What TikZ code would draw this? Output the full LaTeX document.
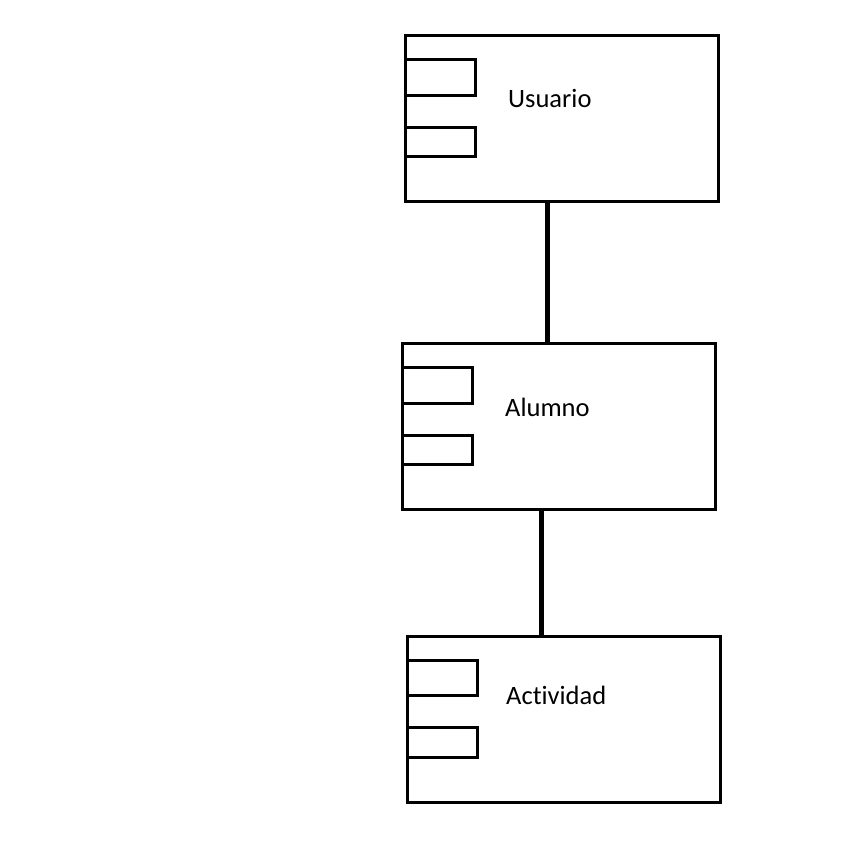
\documentclass[tikz,border=0pt]{standalone}
\usepackage{fontspec}
\setmainfont{Carlito}[Ligatures={NoCommon}]
\begin{document}
\begin{tikzpicture}[x=1pt,y=-1pt,
  compbox/.style={draw=black, line width=3pt, rectangle, minimum width=313pt, minimum height=165.5pt, anchor=north west, outer sep=0pt, inner sep=0pt},
  port/.style={draw=black, line width=3pt, rectangle, minimum width=70pt, anchor=north west, outer sep=0pt, inner sep=0pt},
  porta/.style={port, minimum height=35.4pt},
  portb/.style={port, minimum height=29.2pt},
  lbl/.style={anchor=base west, inner sep=0pt, font=\fontsize{26.5}{30}\selectfont},
  conn/.style={draw=black, line width=5pt}]
\useasboundingbox (0,0) rectangle (860,860);
\fill[white] (0,0) rectangle (860,860);
% Usuario
\node[compbox] (usuario) at (405.8,35.8) {};
\node[porta] (usuarioP1) at (405.8,59.8) {};
\node[portb] (usuarioP2) at (405.8,127.1) {};
\node[lbl] (usuarioL) at (508,107.3) {Usuario};
% Alumno
\node[compbox] (alumno) at (402.5,343.7) {};
\node[porta] (alumnoP1) at (402.5,367.7) {};
\node[portb] (alumnoP2) at (402.5,435.0) {};
\node[lbl] (alumnoL) at (505,416.5) {Alumno};
% Actividad
\node[compbox] (actividad) at (407.5,636.5) {};
\node[porta] (actividadP1) at (407.5,660.5) {};
\node[portb] (actividadP2) at (407.5,727.8) {};
\node[lbl] (actividadL) at (506,704) {Actividad};
% connectors
\coordinate (c1a) at (547.5,201.3);
\coordinate (c1b) at (547.5,343.7);
\draw[conn] (usuario.south -| c1a) -- (alumno.north -| c1b);
\coordinate (c2a) at (541.5,509.2);
\draw[conn] (alumno.south -| c2a) -- (actividad.north -| c2a);
\end{tikzpicture}
\end{document}
